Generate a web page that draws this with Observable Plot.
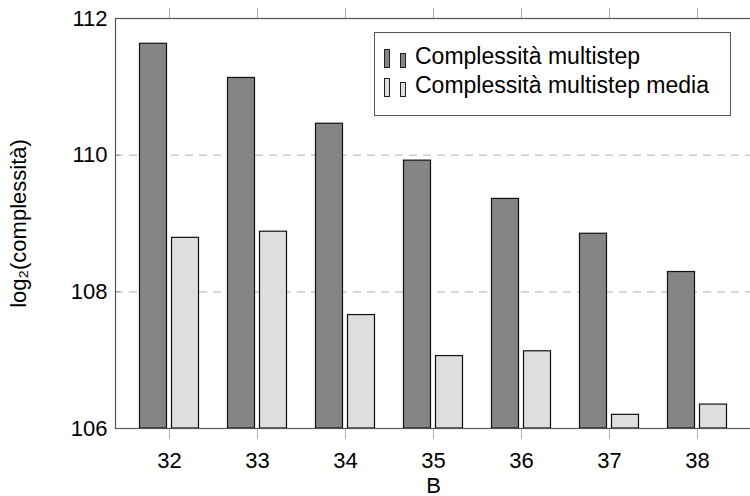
<!DOCTYPE html>
<html>
<head>
<meta charset="utf-8">
<script src="https://cdn.jsdelivr.net/npm/d3@7"></script>
<script src="https://cdn.jsdelivr.net/npm/@observablehq/plot@0.6"></script>
<style>
  html, body { margin: 0; padding: 0; background: #fff; overflow: hidden; }
  #wrap { position: relative; width: 750px; height: 496px; font-family: "Liberation Sans", Arial, sans-serif; }
  #legend { position: absolute; left: 374px; top: 32px; width: 357px; height: 84px; border: 1px solid #555; background: #fff; box-sizing: border-box; }
  .sw { position: absolute; width: 6px; border: 1px solid #222; box-sizing: border-box; }
  .lt { position: absolute; left: 40px; font-size: 23px; line-height: 26px; color: #000; white-space: nowrap; }
</style>
</head>
<body>
<div id="wrap"></div>
<script>
const B = [32, 33, 34, 35, 36, 37, 38];
const multistep = [111.63, 111.13, 110.46, 109.92, 109.36, 108.85, 108.29];
const media = [108.79, 108.88, 107.66, 107.06, 107.13, 106.20, 106.35];
const seriesNames = ["Complessità multistep", "Complessità multistep media"];
const seriesColors = ["#858585", "#dedede"];
const yTicks = [106, 108, 110, 112];
const gridTicks = [108, 110];
const yDomain = [106, 112];

const d1 = B.map((b, i) => ({B: b, v: multistep[i]}));
const d2 = B.map((b, i) => ({B: b, v: media[i]}));

const font = "22px";
const chart = Plot.plot({
  width: 750,
  height: 496,
  marginLeft: 115,
  marginRight: -1,
  marginTop: 18,
  marginBottom: 68,
  style: {fontFamily: '"Liberation Sans", Arial, sans-serif', fontSize: font, background: "#fff", overflow: "visible"},
  x: {type: "band", domain: B, paddingInner: 0, paddingOuter: 0.0973, axis: null},
  y: {domain: yDomain, axis: null},
  marks: [
    Plot.gridY(gridTicks, {stroke: "#c4c4c4", strokeOpacity: 1, strokeWidth: 1.2, strokeDasharray: "8,6"}),
    Plot.barY(d1, {x: "B", y1: yDomain[0], y2: "v", fill: seriesColors[0], stroke: "#111", strokeWidth: 1.2, insetLeft: 14.5, insetRight: 46.5}),
    Plot.barY(d2, {x: "B", y1: yDomain[0], y2: "v", fill: seriesColors[1], stroke: "#111", strokeWidth: 1.2, insetLeft: 46.5, insetRight: 14.5}),
    Plot.axisX({anchor: "bottom", ticks: B, tickSize: 11, tickPadding: 13, stroke: "#b0b0b0", fill: "#000", fontSize: font,
      label: "B", labelAnchor: "center", labelOffset: 64, labelArrow: "none"}),
    Plot.axisX({anchor: "top", ticks: B, tickSize: 11, stroke: "#b0b0b0", tickFormat: () => "", label: null}),
    Plot.axisY({anchor: "left", ticks: yTicks, tickSize: 0, tickPadding: 8, fill: "#000", fontSize: font, tickFormat: d => String(d),
      label: "log₂(complessità)", labelAnchor: "center", labelOffset: 105, labelArrow: "none"}),
    Plot.axisY({anchor: "left", ticks: gridTicks, tickSize: 5, dx: 5, stroke: "#999", tickFormat: () => "", label: null}),
    Plot.frame({stroke: "#555", strokeWidth: 1.2})
  ]
});
const wrap = document.getElementById("wrap");
wrap.appendChild(chart);

// legend inside the plot area
const legend = document.createElement("div");
legend.id = "legend";
seriesNames.forEach((name, i) => {
  const off = i * 29;
  const s1 = document.createElement("div");
  s1.className = "sw"; s1.style.background = seriesColors[i];
  s1.style.left = "9px"; s1.style.top = (16 + off) + "px"; s1.style.height = "19px";
  const s2 = document.createElement("div");
  s2.className = "sw"; s2.style.background = seriesColors[i];
  s2.style.left = "25px"; s2.style.top = (20 + off) + "px"; s2.style.height = "15px";
  const t = document.createElement("span");
  t.className = "lt"; t.textContent = name; t.style.top = (10 + off) + "px";
  legend.appendChild(s1); legend.appendChild(s2); legend.appendChild(t);
});
wrap.appendChild(legend);
</script>
</body>
</html>
